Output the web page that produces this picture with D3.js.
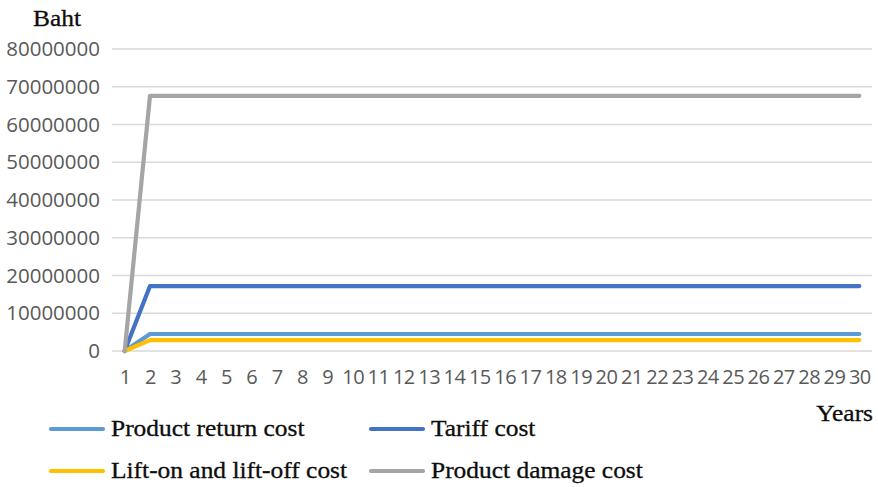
<!DOCTYPE html>
<html>
<head>
<meta charset="utf-8">
<script src="https://cdn.jsdelivr.net/npm/d3@7/dist/d3.min.js"></script>
<style>
  html, body { margin: 0; padding: 0; background: #ffffff; }
  svg { display: block; }
</style>
</head>
<body>
<svg id="chart" width="878" height="487"></svg>
<script>
// Cost per year over the 30-year horizon (Baht)
const years = ["1","2","3","4","5","6","7","8","9","10","11","12","13","14","15",
  "16","17","18","19","20","21","22","23","24","25","26","27","28","29","30"];

const productReturnCost = [0, 4500000, 4500000, 4500000, 4500000, 4500000, 4500000, 4500000, 4500000, 4500000,
  4500000, 4500000, 4500000, 4500000, 4500000, 4500000, 4500000, 4500000, 4500000, 4500000,
  4500000, 4500000, 4500000, 4500000, 4500000, 4500000, 4500000, 4500000, 4500000, 4500000];

const tariffCost = [0, 17200000, 17200000, 17200000, 17200000, 17200000, 17200000, 17200000, 17200000, 17200000,
  17200000, 17200000, 17200000, 17200000, 17200000, 17200000, 17200000, 17200000, 17200000, 17200000,
  17200000, 17200000, 17200000, 17200000, 17200000, 17200000, 17200000, 17200000, 17200000, 17200000];

const liftCost = [0, 2900000, 2900000, 2900000, 2900000, 2900000, 2900000, 2900000, 2900000, 2900000,
  2900000, 2900000, 2900000, 2900000, 2900000, 2900000, 2900000, 2900000, 2900000, 2900000,
  2900000, 2900000, 2900000, 2900000, 2900000, 2900000, 2900000, 2900000, 2900000, 2900000];

const damageCost = [0, 67600000, 67600000, 67600000, 67600000, 67600000, 67600000, 67600000, 67600000, 67600000,
  67600000, 67600000, 67600000, 67600000, 67600000, 67600000, 67600000, 67600000, 67600000, 67600000,
  67600000, 67600000, 67600000, 67600000, 67600000, 67600000, 67600000, 67600000, 67600000, 67600000];

const yTicks = [0, 10000000, 20000000, 30000000, 40000000, 50000000, 60000000, 70000000, 80000000];

const seriesNames = ["Product return cost", "Tariff cost", "Lift-on and lift-off cost", "Product damage cost"];
const seriesColors = ["#5b9bd5", "#4472c4", "#ffc000", "#a5a5a5"];
const seriesValues = [productReturnCost, tariffCost, liftCost, damageCost];

const series = seriesNames.map((name, i) => ({ name, color: seriesColors[i], values: seriesValues[i] }));

const svg = d3.select("#chart");
const plot = { left: 112, right: 872, top: 49, bottom: 351 };

const x = d3.scalePoint().domain(years).range([plot.left, plot.right]).padding(0.5);
const y = d3.scaleLinear().domain([0, 80000000]).range([plot.bottom, plot.top]);

const tickFont = "'Open Sans', 'Liberation Sans', sans-serif";
const serifFont = "'Liberation Serif', 'DejaVu Serif', serif";
const serifStretch = 1.13;

// Serif titles and legend text are set slightly wide
function styleSerif(sel) {
  sel.attr("fill", "#0d0d0d")
    .attr("stroke", "#0d0d0d")
    .attr("stroke-width", 0.3)
    .style("font-family", serifFont)
    .style("font-size", "22.5px");
  sel.each(function () {
    const w = this.getComputedTextLength();
    d3.select(this)
      .attr("textLength", w * serifStretch)
      .attr("lengthAdjust", "spacingAndGlyphs");
  });
  return sel;
}

// Horizontal gridlines
svg.append("g")
  .selectAll("line")
  .data(yTicks)
  .join("line")
  .attr("x1", plot.left).attr("x2", plot.right)
  .attr("y1", d => y(d)).attr("y2", d => y(d))
  .attr("stroke", "#d9d9d9")
  .attr("stroke-width", 1.5);

// Y axis labels
const yAxis = d3.axisLeft(y).tickValues(yTicks).tickFormat(d3.format("d")).tickSize(0).tickPadding(12);
const gy = svg.append("g").attr("transform", `translate(${plot.left},0)`).call(yAxis);
gy.select(".domain").remove();
gy.selectAll("text")
  .attr("fill", "#595959")
  .style("font-family", tickFont)
  .style("font-size", "20.5px");

// X axis labels
const xAxis = d3.axisBottom(x).tickSize(0).tickPadding(19);
const gx = svg.append("g").attr("transform", `translate(0,${plot.bottom})`).call(xAxis);
gx.select(".domain").remove();
gx.selectAll("text")
  .attr("fill", "#595959")
  .style("font-family", tickFont)
  .style("font-size", "20px")
  .attr("letter-spacing", "-0.5px");

// Series lines
const line = d3.line()
  .x((d, i) => x(years[i]))
  .y(d => y(d));

svg.append("g")
  .selectAll("path")
  .data(series)
  .join("path")
  .attr("d", d => line(d.values))
  .attr("fill", "none")
  .attr("stroke", d => d.color)
  .attr("stroke-width", 4.2)
  .attr("stroke-linejoin", "round")
  .attr("stroke-linecap", "round");

// Axis titles
svg.append("text")
  .attr("x", 33).attr("y", 26)
  .text("Baht")
  .call(styleSerif);

const yearsLabel = svg.append("text")
  .attr("y", 421)
  .text("Years")
  .call(styleSerif);
yearsLabel.attr("x", 873 - (+yearsLabel.attr("textLength")));

// Legend (two columns, two rows)
const legendPos = [
  { x: 51, y: 429 },
  { x: 371, y: 429 },
  { x: 51, y: 471 },
  { x: 371, y: 471 }
];
const legend = svg.append("g")
  .selectAll("g")
  .data(series)
  .join("g")
  .attr("transform", (d, i) => `translate(${legendPos[i].x},${legendPos[i].y})`);

legend.append("line")
  .attr("x1", 0).attr("x2", 52)
  .attr("y1", 0).attr("y2", 0)
  .attr("stroke", d => d.color)
  .attr("stroke-width", 4.2)
  .attr("stroke-linecap", "round");

legend.append("text")
  .attr("x", 60).attr("y", 0)
  .attr("dy", "0.32em")
  .text(d => d.name)
  .call(styleSerif);
</script>
</body>
</html>
